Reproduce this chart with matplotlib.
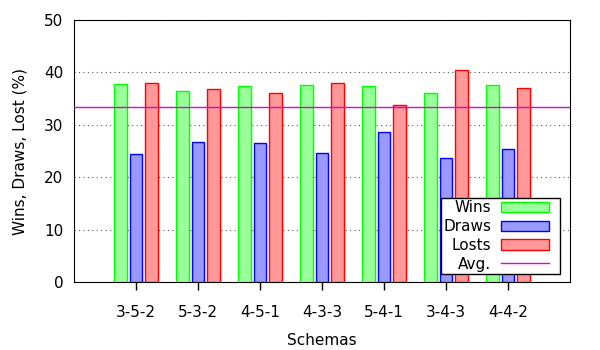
import numpy as np
import matplotlib
matplotlib.use("Agg")
import matplotlib.pyplot as plt
import matplotlib.patches as mpatches
from matplotlib.legend_handler import HandlerPatch, HandlerLine2D

schemas = ["3-5-2", "5-3-2", "4-5-1", "4-3-3", "5-4-1", "3-4-3", "4-4-2"]
wins = [37.8, 36.4, 37.4, 37.6, 37.4, 36.1, 37.6]
draws = [24.4, 26.7, 26.5, 24.6, 28.6, 23.7, 25.4]
losts = [38.0, 36.8, 36.1, 38.0, 33.8, 40.5, 37.0]
avg = 100.0 / 3

plt.rcParams['font.family'] = ['DejaVu Sans']
plt.rcParams['font.size'] = 11

# gnuplot style legend: sample box leaves some room on its right
SHRINK = 0.84


def short_patch(legend, orig_handle, xdescent, ydescent, width, height, fontsize):
    return mpatches.Rectangle((-xdescent, -ydescent), width * SHRINK, height)


class ShortLine(HandlerLine2D):
    def get_xdata(self, legend, xdescent, ydescent, width, height, fontsize):
        return super().get_xdata(legend, xdescent, ydescent, width * SHRINK, height, fontsize)


fig = plt.figure(figsize=(6, 3.5), dpi=100)
ax = fig.add_axes([0.1238, 0.1934, 0.8267, 0.7495])

x = np.arange(1, len(schemas) + 1)
b1 = ax.bar(x - 0.25, wins, 0.215, color='#99ff99', edgecolor='#00ff00', linewidth=1.0, label='Wins', zorder=3)
b2 = ax.bar(x, draws, 0.2, color='#9999ff', edgecolor='#0000ff', linewidth=1.0, label='Draws', zorder=3)
b3 = ax.bar(x + 0.25, losts, 0.21, color='#ff9999', edgecolor='#ff0000', linewidth=1.0, label='Losts', zorder=3)
l1 = ax.axhline(avg, color='#e000e0', linewidth=1, label='Avg.', zorder=4)

ax.set_xlim(0, 8)
ax.set_ylim(0, 50)
ax.set_xticks(x)
ax.set_xticklabels(schemas)
ax.set_yticks([0, 10, 20, 30, 40, 50])
ax.tick_params(axis='x', direction='out', length=6, width=1, pad=10)
ax.tick_params(axis='y', direction='in', length=6, width=1, right=True, pad=8)
for t in ax.yaxis.get_major_ticks():
    if t.get_loc() in (0, 50):
        t.tick1line.set_visible(False)
        t.tick2line.set_visible(False)

ax.yaxis.grid(True, linestyle=(0, (1, 3)), color='#555555', linewidth=0.8, zorder=0)
ax.xaxis.grid(False)

ax.set_xlabel('Schemas', labelpad=10)
ax.set_ylabel('Wins, Draws, Lost (%)', labelpad=12)

hp = HandlerPatch(patch_func=short_patch)
leg = ax.legend([b1[0], b2[0], b3[0], l1], ['Wins', 'Draws', 'Losts', 'Avg.'],
                handler_map={b1[0]: hp, b2[0]: hp, b3[0]: hp, l1: ShortLine()},
                loc='lower right', bbox_to_anchor=(0.98, 0.032), markerfirst=False,
                fancybox=False, framealpha=1, edgecolor='black',
                handlelength=3.74, handleheight=0.65, labelspacing=0.25,
                handletextpad=0.65, borderpad=0.15, borderaxespad=0)
leg.get_frame().set_linewidth(1)
leg.set_zorder(5)

fig.savefig('out.png', dpi=100)
